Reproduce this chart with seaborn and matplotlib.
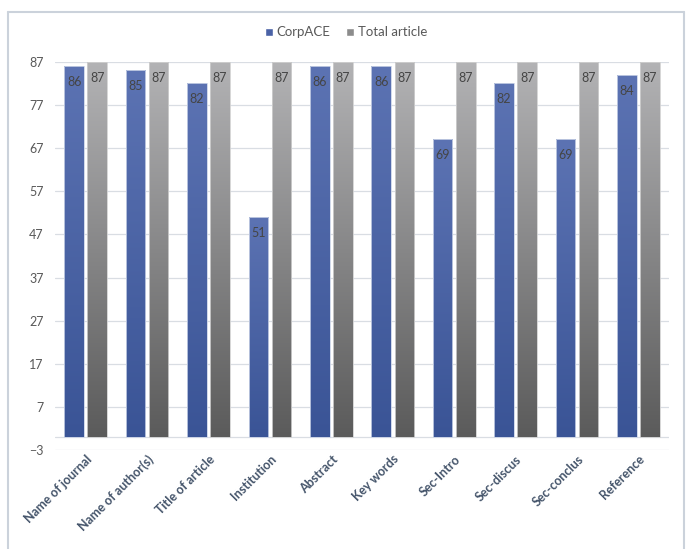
import numpy as np
import pandas as pd
import matplotlib
matplotlib.use("Agg")
import matplotlib.pyplot as plt
import seaborn as sns
from matplotlib.colors import LinearSegmentedColormap
from matplotlib.patches import Patch
from matplotlib.lines import Line2D

# data
categories = ["Name of journal", "Name of author(s)", "Title of article", "Institution",
              "Abstract", "Key words", "Sec-Intro", "Sec-discus", "Sec-conclus", "Reference"]
corpace = [86, 85, 82, 51, 86, 86, 69, 82, 69, 84]
total_article = [87, 87, 87, 87, 87, 87, 87, 87, 87, 87]
series = ["CorpACE", "Total article"]
y_ticks = [-3, 7, 17, 27, 37, 47, 57, 67, 77, 87]

df = pd.DataFrame({
    "category": categories * 2,
    "value": corpace + total_article,
    "series": [series[0]] * len(categories) + [series[1]] * len(categories),
})

sns.set_style("white")
plt.rcParams["font.family"] = ["Lato", "DejaVu Sans"]

fig = plt.figure(figsize=(6.92, 5.49), dpi=100)
ax = fig.add_axes([0.0795, 0.1798, 0.8875, 0.7078])

sns.barplot(data=df, x="category", y="value", hue="series", order=categories,
            hue_order=series, width=0.75, gap=0.15, palette=["#4a62a6", "#8c8c8c"],
            legend=False, ax=ax, zorder=2)

# per-bar vertical gradients like the Excel fill
grads = {
    0: LinearSegmentedColormap.from_list("b", ["#3a5496", "#5c73b3"]),
    1: LinearSegmentedColormap.from_list("g", ["#5b5b5b", "#b3b3b5"]),
}
grad = np.linspace(0, 1, 256).reshape(-1, 1)
n = len(categories)
for i, p in enumerate(ax.patches[:2 * n]):
    x, w, h = p.get_x(), p.get_width(), p.get_height()
    cmap = grads[i // n]
    im = ax.imshow(grad, extent=[x, x + w, 0, h], origin="lower", aspect="auto",
                   cmap=cmap, zorder=2.5)
    im.set_clip_path(p)
    p.set_edgecolor("#c9d2e6" if i < n else "#d0d0d0")
    p.set_linewidth(0.6)
    p.set_zorder(3)
    p.set_facecolor("none")
    ax.annotate(f"{int(h)}", (x + w / 2, h), xytext=(0, -11.5), textcoords="offset points",
                ha="center", va="center", fontsize=9, color="#454545", zorder=4)

ax.set_xlim(-0.5, n - 0.5)
ax.set_ylim(-3, 87)
ax.set_yticks(y_ticks)
ax.yaxis.grid(True, color="#d9dde3", linewidth=0.9, zorder=0)
ax.axhline(0, color="#d9dde3", linewidth=0.9, zorder=1)
for s in ax.spines.values():
    s.set_visible(False)
ax.tick_params(axis="both", length=0)
ax.tick_params(axis="y", labelsize=9, labelcolor="#595959", pad=8)
ax.set_xlabel("")
ax.set_ylabel("")
ax.set_xticks(range(n))
ax.set_xticklabels(categories, rotation=45, ha="right", va="top", rotation_mode="anchor",
                   fontsize=9, fontweight="bold", color="#44546a")
ax.tick_params(axis="x", pad=2)

handles = [Patch(facecolor="#4a62a6"), Patch(facecolor="#8c8c8c")]
fig.legend(handles, series, loc="center", bbox_to_anchor=(0.5, 0.941), ncol=2, frameon=False,
           fontsize=9.5, labelcolor="#595959", handlelength=0.6, handleheight=0.6,
           handletextpad=0.3, columnspacing=1.2)

# light chart-area border
bc = "#cbd2db"
fig.add_artist(Line2D([8 / 692, 8 / 692], [0.0, 1 - 12 / 549], color=bc, lw=1.5))
fig.add_artist(Line2D([684 / 692, 684 / 692], [0.0, 1 - 12 / 549], color=bc, lw=1.5))
fig.add_artist(Line2D([8 / 692, 684 / 692], [1 - 12 / 549, 1 - 12 / 549], color=bc, lw=1.5))

fig.savefig("out.png", dpi=100, facecolor="white")
